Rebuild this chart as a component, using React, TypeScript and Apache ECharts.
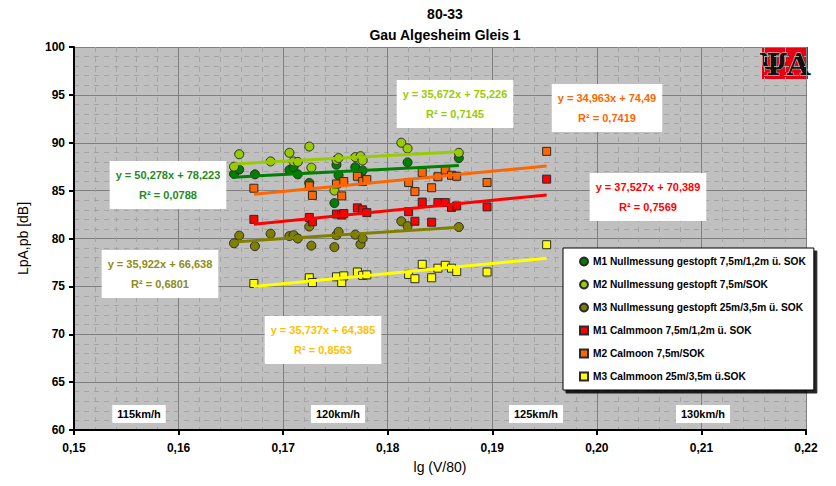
import React, { useEffect, useRef } from "react";
import * as echarts from "echarts";

const FONT = "'Liberation Sans', Arial, Helvetica, sans-serif";

// lg(V/80) and LpA,pb [dB] of the single passes
const m1NullX = [0.1653, 0.1658, 0.1673, 0.1706, 0.171, 0.1714, 0.1725, 0.1749, 0.1751, 0.1753, 0.1769, 0.1774, 0.1776, 0.1819, 0.1868];
const m1NullY = [86.75, 87.2, 86.7, 87.15, 87.45, 86.7, 85.8, 83.7, 87.7, 86.6, 87.45, 86.8, 87.1, 87.95, 88.4];

const m2NullX = [0.1653, 0.1658, 0.1688, 0.1706, 0.171, 0.1714, 0.1725, 0.1727, 0.1749, 0.1751, 0.1753, 0.1769, 0.1774, 0.1776, 0.1813, 0.1819, 0.1868];
const m2NullY = [87.5, 88.8, 88.05, 88.95, 88.05, 88.0, 89.6, 87.4, 85.0, 88.2, 88.4, 88.5, 88.6, 88.15, 90.0, 89.4, 88.95];

const m3NullX = [0.1653, 0.1658, 0.1673, 0.1688, 0.1706, 0.171, 0.1714, 0.1725, 0.1727, 0.1749, 0.1751, 0.1753, 0.1769, 0.1774, 0.1776, 0.1813, 0.1819, 0.1868];
const m3NullY = [79.5, 80.3, 79.2, 80.5, 80.25, 80.35, 80.0, 81.25, 79.25, 79.1, 80.35, 80.7, 80.4, 79.4, 80.0, 81.8, 81.3, 81.2];

const calmX = [0.1672, 0.1725, 0.1728, 0.1751, 0.1756, 0.1758, 0.1771, 0.1776, 0.178, 0.182, 0.1826, 0.1833, 0.1842, 0.1848, 0.1855, 0.1861, 0.1866, 0.1895, 0.1952];
const m1CalmY = [82.0, 82.2, 81.75, 82.55, 82.45, 82.6, 83.2, 83.0, 82.7, 82.8, 81.8, 83.8, 81.7, 83.75, 83.75, 83.25, 83.4, 83.3, 86.2];
const m2CalmY = [85.25, 85.5, 84.5, 85.7, 84.45, 85.95, 86.5, 85.95, 86.15, 85.85, 84.9, 86.9, 85.3, 86.45, 87.15, 86.6, 86.5, 85.85, 89.1];
const m3CalmY = [75.3, 75.9, 75.4, 76.0, 75.4, 76.1, 76.5, 76.15, 76.2, 76.25, 75.8, 77.3, 75.9, 76.9, 77.2, 76.9, 76.55, 76.5, 79.35];

const seriesNames = [
  "M1 Nullmessung gestopft 7,5m/1,2m ü. SOK",
  "M2 Nullmessung gestopft 7,5m/SOK",
  "M3 Nullmessung gestopft 25m/3,5m ü. SOK",
  "M1 Calmmoon 7,5m/1,2m ü. SOK",
  "M2 Calmoon 7,5m/SOK",
  "M3 Calmmoon 25m/3,5m ü.SOK",
];

// trend line equations as printed in the chart
const equations = [
  ["y = 50,278x + 78,223", "R² = 0,0788"],
  ["y = 35,672x + 75,226", "R² = 0,7145"],
  ["y = 35,922x + 66,638", "R² = 0,6801"],
  ["y = 37,527x + 70,389", "R² = 0,7569"],
  ["y = 34,963x + 74,49", "R² = 0,7419"],
  ["y = 35,737x + 64,385", "R² = 0,8563"],
];

const speedLabels = ["115km/h", "120km/h", "125km/h", "130km/h"];

const xTicks = { min: 0.15, max: 0.22, step: 0.01 };
const yTicks = { min: 60, max: 100, step: 5 };

type Def = { x: number[]; y: number[]; color: string; symbol: string };

const defs: Def[] = [
  { x: m1NullX, y: m1NullY, color: "#008000", symbol: "circle" },
  { x: m2NullX, y: m2NullY, color: "#99cc00", symbol: "circle" },
  { x: m3NullX, y: m3NullY, color: "#808000", symbol: "circle" },
  { x: calmX, y: m1CalmY, color: "#ff0000", symbol: "rect" },
  { x: calmX, y: m2CalmY, color: "#ff6600", symbol: "rect" },
  { x: calmX, y: m3CalmY, color: "#ffff00", symbol: "rect" },
];

// least-squares line over the x-range of a series
function linearFit(xs: number[], ys: number[]): number[][] {
  const n = xs.length;
  const mx = xs.reduce((s, v) => s + v, 0) / n;
  const my = ys.reduce((s, v) => s + v, 0) / n;
  let sxx = 0;
  let sxy = 0;
  for (let i = 0; i < n; i++) {
    sxx += (xs[i] - mx) * (xs[i] - mx);
    sxy += (xs[i] - mx) * (ys[i] - my);
  }
  const b = sxy / sxx;
  const a = my - b * mx;
  const x0 = Math.min(...xs);
  const x1 = Math.max(...xs);
  return [
    [x0, a + b * x0],
    [x1, a + b * x1],
  ];
}

const eqLayout = [
  { x: 168, y: 185, color: "#1e8c1e" },
  { x: 455, y: 104, color: "#99cc00" },
  { x: 160, y: 274, color: "#8c8c1a" },
  { x: 648, y: 197, color: "#ff0000" },
  { x: 607, y: 108, color: "#ff6600" },
  { x: 323, y: 340, color: "#ffc000" },
];

const speedLayout = [139, 338, 536, 703];

export default function App() {
  const ref = useRef<HTMLDivElement>(null);

  useEffect(() => {
    document.body.style.margin = "0";
    if (!ref.current) return;
    const chart = echarts.init(ref.current, undefined, { renderer: "svg" });

    const scatter = defs.map((d, i) => ({
      name: seriesNames[i],
      type: "scatter",
      symbol: d.symbol,
      symbolSize: d.symbol === "circle" ? 9 : 8,
      data: d.x.map((v, k) => [v, d.y[k]]),
      itemStyle: { color: d.color, borderColor: "#2a2a2a", borderWidth: 1, opacity: 1 },
      z: 3,
    }));

    const trends = defs.map((d, i) => ({
      name: "trend" + i,
      type: "line",
      data: linearFit(d.x, d.y),
      symbol: "none",
      lineStyle: { color: d.color, width: 3 },
      z: 4,
      silent: true,
    }));

    const graphic: any[] = [];
    equations.forEach((lines, i) => {
      const l = eqLayout[i];
      graphic.push({
        type: "text",
        z: 10,
        style: {
          text: lines.join("\n"),
          x: l.x,
          y: l.y,
          align: "center",
          verticalAlign: "middle",
          font: `bold 11px ${FONT}`,
          lineHeight: 20,
          fill: l.color,
          backgroundColor: "#ffffff",
          padding: [4, 6, 4, 6],
        },
      });
    });
    speedLabels.forEach((t, i) => {
      graphic.push({
        type: "text",
        z: 10,
        style: {
          text: t,
          x: speedLayout[i],
          y: 414,
          align: "center",
          verticalAlign: "middle",
          font: `bold 11px ${FONT}`,
          fill: "#000",
          backgroundColor: "#ffffff",
          padding: [4, 5, 3, 5],
        },
      });
    });
    // institute logo in the upper right corner
    graphic.push({
      type: "group",
      z: 10,
      children: [
        { type: "rect", shape: { x: 762, y: 47, width: 46, height: 32 }, style: { fill: "#e60012" } },
        {
          type: "text",
          style: {
            text: "ΨA",
            x: 785,
            y: 64,
            align: "center",
            verticalAlign: "middle",
            font: `bold 30px 'DejaVu Serif', serif`,
            fill: "#111",
            stroke: "#d8d8d8",
            lineWidth: 1,
          },
        },
      ],
    });

    chart.setOption({
      animation: false,
      backgroundColor: "#ffffff",
      title: {
        text: "80-33\nGau Algesheim Gleis 1",
        left: 440,
        top: -2,
        textAlign: "center",
        textStyle: { fontFamily: FONT, fontWeight: "bold", fontSize: 14, lineHeight: 21, color: "#000" },
      },
      grid: {
        left: 74,
        right: 30,
        top: 47,
        bottom: 56,
        show: true,
        backgroundColor: "#c0c0c0",
        borderWidth: 0,
      },
      legend: {
        data: seriesNames,
        orient: "vertical",
        left: 563,
        top: 248,
        padding: [7, 8, 7, 16],
        itemGap: 10,
        itemWidth: 8,
        itemHeight: 8,
        backgroundColor: "#ffffff",
        borderColor: "#000",
        borderWidth: 1,
        shadowColor: "rgba(0,0,0,0.85)",
        shadowOffsetX: 3,
        shadowOffsetY: 3,
        shadowBlur: 0,
        textStyle: { fontFamily: FONT, fontWeight: "bold", fontSize: 10.2, color: "#000", lineHeight: 13 },
      },
      xAxis: {
        type: "value",
        min: xTicks.min,
        max: xTicks.max,
        interval: xTicks.step,
        name: "lg (V/80)",
        nameLocation: "middle",
        nameGap: 30,
        nameTextStyle: { fontFamily: FONT, fontSize: 14, color: "#000" },
        axisLine: { show: true, onZero: false, lineStyle: { color: "#000", width: 2 } },
        axisTick: { show: true, length: 5, lineStyle: { color: "#000", width: 2 } },
        axisLabel: {
          fontFamily: FONT,
          fontWeight: "bold",
          fontSize: 12,
          color: "#000",
          margin: 12,
          formatter: (v: number) => v.toFixed(2).replace(".", ","),
        },
        splitLine: { show: true, lineStyle: { color: "#7f7f7f", width: 1 } },
        minorTick: { show: false, splitNumber: 5 },
        minorSplitLine: { show: true, lineStyle: { color: "#a4a4a4", width: 1, type: [5, 5] } },
      },
      yAxis: {
        type: "value",
        min: yTicks.min,
        max: yTicks.max,
        interval: yTicks.step,
        name: "LpA,pb [dB]",
        nameLocation: "middle",
        nameGap: 44,
        nameTextStyle: { fontFamily: FONT, fontSize: 14, color: "#000" },
        axisLine: { show: true, onZero: false, lineStyle: { color: "#000", width: 2 } },
        axisTick: { show: true, length: 5, lineStyle: { color: "#000", width: 2 } },
        axisLabel: { fontFamily: FONT, fontWeight: "bold", fontSize: 12, color: "#000", margin: 9 },
        splitLine: { show: true, lineStyle: { color: "#7f7f7f", width: 1 } },
        minorTick: { show: false, splitNumber: 5 },
        minorSplitLine: { show: true, lineStyle: { color: "#a4a4a4", width: 1, type: [5, 5] } },
      },
      graphic,
      series: [...scatter, ...trends],
    });

    return () => chart.dispose();
  }, []);

  return <div ref={ref} style={{ width: 836, height: 486 }} />;
}
